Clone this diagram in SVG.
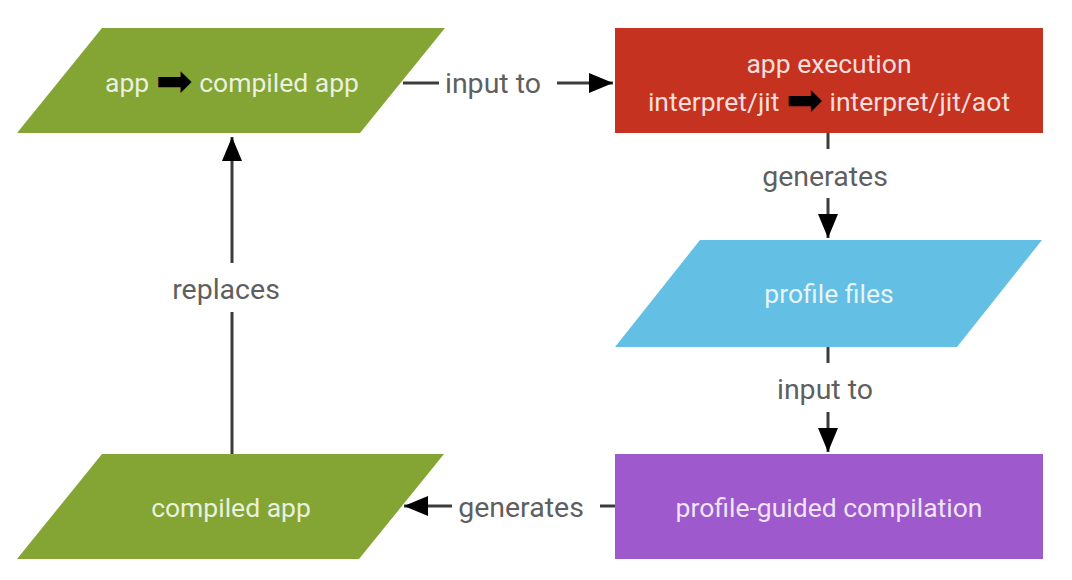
<svg xmlns="http://www.w3.org/2000/svg" width="1072" height="580" viewBox="0 0 1072 580">
<style>
.node-text{font-family:Roboto,"Liberation Sans",sans-serif;font-size:26.5px;fill:#ffffff;fill-opacity:0.85;text-anchor:middle}
.lbl{font-family:Roboto,"Liberation Sans",sans-serif;font-size:28.5px;fill:#5f5f5f;text-anchor:middle}
.ar{font-family:"DejaVu Sans",sans-serif;font-size:44px;fill:#000000;fill-opacity:1}
.conn{stroke:#3c3c3c;stroke-width:3;fill:none}
</style>
<defs>
<marker id="ah" markerUnits="userSpaceOnUse" markerWidth="24" markerHeight="20" refX="24" refY="10" orient="auto">
<path d="M0,0 L24,10 L0,20 z" fill="#000"/>
</marker>
</defs>
<rect width="1072" height="580" fill="#ffffff"/>
<g id="node-app-compiled">
<polygon points="102,28 445,28 360,133 17,133" fill="#84a534"/>
<text class="node-text" x="232" y="92">app <tspan class="ar" dy="4">➡</tspan><tspan dy="-4"> compiled app</tspan></text>
</g>
<g id="node-app-execution">
<rect x="615" y="28" width="428" height="105" fill="#c5321f"/>
<text class="node-text" x="829" y="73">app execution</text>
<text class="node-text" x="829" y="111">interpret/jit <tspan class="ar" dy="4">➡</tspan><tspan dy="-4"> interpret/jit/aot</tspan></text>
</g>
<g id="node-profile-files">
<polygon points="700,240 1042,240 957,347 615,347" fill="#64bfe5"/>
<text class="node-text" x="829" y="303">profile files</text>
</g>
<g id="node-pgc">
<rect x="615" y="454" width="428" height="105" fill="#9e5acd"/>
<text class="node-text" x="829" y="517">profile-guided compilation</text>
</g>
<g id="node-compiled-app">
<polygon points="102,454 444,454 359,559 17,559" fill="#84a534"/>
<text class="node-text" x="231" y="517">compiled app</text>
</g>
<g id="connectors">
<line class="conn" x1="403" y1="83" x2="439" y2="83"/>
<line class="conn" x1="557" y1="83" x2="613" y2="83" marker-end="url(#ah)"/>
<text class="lbl" x="493" y="93">input to</text>
<line class="conn" x1="828" y1="133" x2="828" y2="149"/>
<line class="conn" x1="828" y1="198" x2="828" y2="238" marker-end="url(#ah)"/>
<text class="lbl" x="825" y="186">generates</text>
<line class="conn" x1="828" y1="347" x2="828" y2="363"/>
<line class="conn" x1="828" y1="412" x2="828" y2="452" marker-end="url(#ah)"/>
<text class="lbl" x="825" y="399">input to</text>
<line class="conn" x1="615" y1="506" x2="600" y2="506"/>
<line class="conn" x1="452" y1="506" x2="404" y2="506" marker-end="url(#ah)"/>
<text class="lbl" x="521" y="517">generates</text>
<line class="conn" x1="232" y1="454" x2="232" y2="312"/>
<line class="conn" x1="232" y1="263" x2="232" y2="137" marker-end="url(#ah)"/>
<text class="lbl" x="226" y="299">replaces</text>
</g>
</svg>
